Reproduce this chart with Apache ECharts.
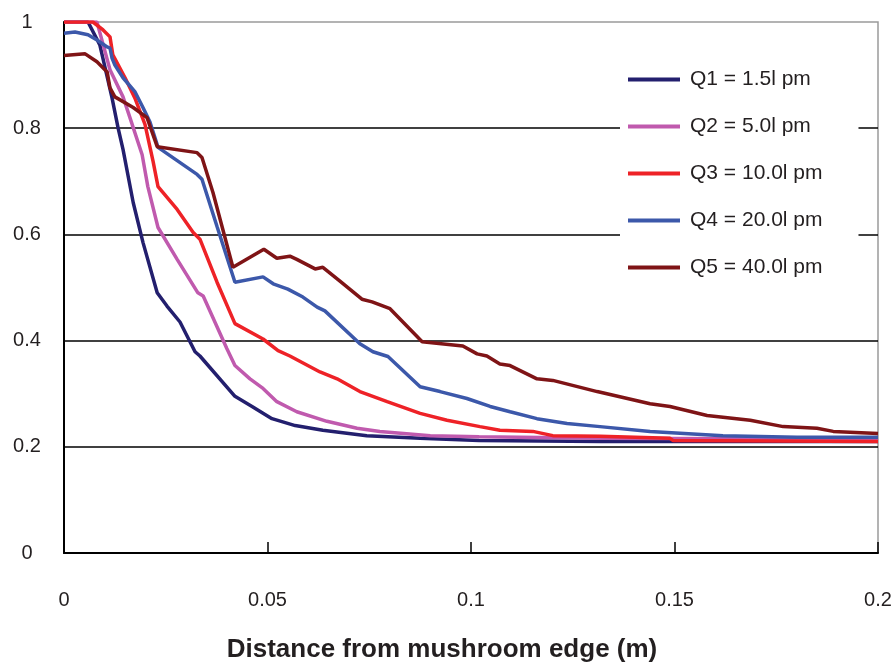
<!DOCTYPE html>
<html>
<head>
<meta charset="utf-8">
<script src="https://cdn.jsdelivr.net/npm/echarts@6/dist/echarts.min.js"></script>
<style>
html,body{margin:0;padding:0;background:#fff;}
#c{width:896px;height:668px;}
</style>
</head>
<body>
<div id="c"></div>
<script>
const seriesNames = ['Q1 = 1.5l pm', 'Q2 = 5.0l pm', 'Q3 = 10.0l pm', 'Q4 = 20.0l pm', 'Q5 = 40.0l pm'];
const xTicks = [0, 0.05, 0.1, 0.15, 0.2];
const yTicks = [0, 0.2, 0.4, 0.6, 0.8, 1];
const xTitle = 'Distance from mushroom edge (m)';

const q1 = [[0,1.0],[0.0059,1.0],[0.0088,0.957],[0.0118,0.857],[0.0133,0.80],[0.0145,0.76],[0.017,0.66],[0.0194,0.585],[0.0229,0.49],[0.0253,0.465],[0.0285,0.435],[0.0322,0.379],[0.0334,0.371],[0.042,0.295],[0.0462,0.276],[0.0511,0.253],[0.0568,0.240],[0.0636,0.231],[0.0744,0.221],[0.0875,0.216],[0.102,0.212],[0.132,0.21],[0.2,0.21]];
const q2 = [[0,1.0],[0.0081,1.0],[0.0113,0.91],[0.0145,0.859],[0.0162,0.82],[0.0192,0.75],[0.0206,0.69],[0.0231,0.613],[0.0278,0.553],[0.0329,0.49],[0.0342,0.484],[0.040,0.385],[0.042,0.353],[0.0457,0.328],[0.0489,0.31],[0.0523,0.285],[0.0572,0.266],[0.0646,0.248],[0.072,0.235],[0.0776,0.229],[0.09,0.221],[0.102,0.219],[0.132,0.216],[0.2,0.214]];
const q3 = [[0,1.0],[0.0071,1.0],[0.0096,0.985],[0.0113,0.972],[0.012,0.938],[0.015,0.895],[0.0174,0.857],[0.0199,0.807],[0.0219,0.737],[0.0231,0.69],[0.0278,0.647],[0.0317,0.604],[0.0334,0.591],[0.0376,0.51],[0.042,0.432],[0.0489,0.403],[0.0526,0.381],[0.0555,0.371],[0.0629,0.341],[0.0671,0.328],[0.0727,0.304],[0.0794,0.285],[0.0875,0.263],[0.0941,0.25],[0.1022,0.238],[0.1071,0.231],[0.1152,0.229],[0.1201,0.221],[0.1317,0.22],[0.1489,0.216],[0.1496,0.212],[0.2,0.21]];
const q4 = [[0,0.979],[0.0027,0.981],[0.0059,0.976],[0.0081,0.966],[0.0106,0.953],[0.0113,0.951],[0.0118,0.932],[0.0125,0.919],[0.0145,0.895],[0.0174,0.869],[0.0194,0.839],[0.0211,0.812],[0.0231,0.764],[0.0327,0.713],[0.0339,0.704],[0.0376,0.615],[0.042,0.51],[0.0489,0.52],[0.0514,0.507],[0.055,0.497],[0.0587,0.482],[0.0622,0.463],[0.0641,0.456],[0.0727,0.394],[0.0759,0.379],[0.0796,0.37],[0.0875,0.313],[0.0924,0.304],[0.099,0.291],[0.1047,0.276],[0.1096,0.266],[0.1162,0.253],[0.1236,0.244],[0.1317,0.238],[0.144,0.229],[0.1619,0.221],[0.1801,0.218],[0.2,0.218]];
const q5 = [[0,0.937],[0.0052,0.94],[0.0081,0.925],[0.0106,0.906],[0.0113,0.876],[0.0125,0.859],[0.017,0.839],[0.0204,0.82],[0.0229,0.765],[0.0327,0.754],[0.0339,0.745],[0.0366,0.679],[0.0415,0.538],[0.0491,0.572],[0.0523,0.555],[0.0555,0.559],[0.0572,0.553],[0.0617,0.535],[0.0636,0.538],[0.0678,0.512],[0.0732,0.478],[0.0757,0.473],[0.0801,0.46],[0.088,0.398],[0.098,0.39],[0.1015,0.375],[0.1039,0.371],[0.1071,0.356],[0.1096,0.353],[0.1162,0.328],[0.1201,0.325],[0.131,0.304],[0.144,0.281],[0.1489,0.276],[0.158,0.259],[0.1686,0.25],[0.1767,0.238],[0.185,0.235],[0.189,0.229],[0.2,0.225]];

const seriesData = [q1, q2, q3, q4, q5];
const colors = ['#231F6E', '#C05AAE', '#EE2227', '#3C58AA', '#7F1416'];

const chart = echarts.init(document.getElementById('c'), null, {renderer: 'canvas'});
const font = '"Liberation Sans", Arial, sans-serif';

chart.setOption({
  animation: false,
  backgroundColor: '#fff',
  color: colors,
  grid: {left: 64, right: 18, top: 22, bottom: 113, show: true, borderColor: '#9a9a9a', borderWidth: 1.5, backgroundColor: 'transparent'},
  legend: {
    orient: 'vertical',
    left: 620, top: 57,
    padding: [12, 36, 12, 8],
    backgroundColor: '#fff',
    itemWidth: 52, itemHeight: 4, itemGap: 26,
    icon: 'rect',
    data: seriesNames,
    textStyle: {fontFamily: font, fontSize: 21, color: '#231F20', lineHeight: 20, padding: [0, 0, 0, 5]}
  },
  xAxis: {
    type: 'value', min: xTicks[0], max: xTicks[xTicks.length - 1], interval: 0.05,
    name: xTitle, nameLocation: 'middle', nameGap: 84,
    nameTextStyle: {fontFamily: font, fontSize: 26, fontWeight: 'bold', color: '#231F20', padding: [0, 58, 0, 0]},
    axisLine: {show: true, onZero: false, lineStyle: {color: '#000', width: 2}},
    axisTick: {show: true, inside: true, length: 11, lineStyle: {color: '#000', width: 1.5}},
    axisLabel: {fontFamily: font, fontSize: 20, color: '#231F20', margin: 37},
    splitLine: {show: false}
  },
  yAxis: {
    type: 'value', min: yTicks[0], max: yTicks[yTicks.length - 1], interval: 0.2,
    axisLine: {show: true, lineStyle: {color: '#000', width: 2}},
    axisTick: {show: false},
    axisLabel: {fontFamily: font, fontSize: 20, color: '#231F20', margin: 37, align: 'center'},
    splitLine: {show: true, showMaxLine: false, lineStyle: {color: '#000', width: 1.5}}
  },
  series: seriesNames.map((n, i) => ({
    name: n, type: 'line', data: seriesData[i], showSymbol: false, symbol: 'none',
    lineStyle: {width: 3.5, color: colors[i]}, itemStyle: {color: colors[i]}
  }))
});
</script>
</body>
</html>
